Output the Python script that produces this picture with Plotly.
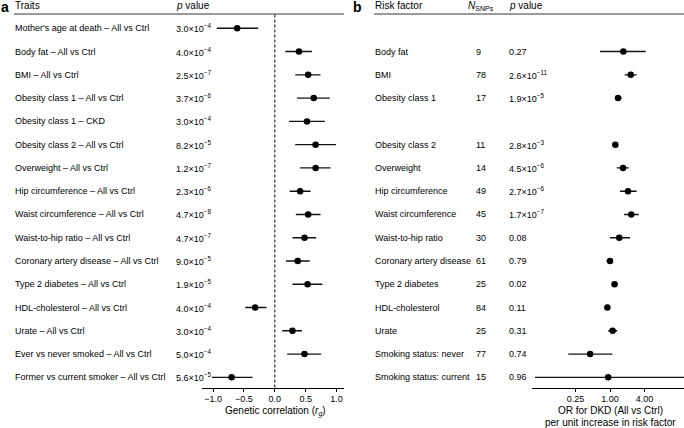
import plotly.graph_objects as go

# ---------------- Data ----------------
traits_a = [
    "Mother's age at death – All vs Ctrl",
    "Body fat – All vs Ctrl",
    "BMI – All vs Ctrl",
    "Obesity class 1 – All vs Ctrl",
    "Obesity class 1 – CKD",
    "Obesity class 2 – All vs Ctrl",
    "Overweight – All vs Ctrl",
    "Hip circumference – All vs Ctrl",
    "Waist circumference – All vs Ctrl",
    "Waist-to-hip ratio – All vs Ctrl",
    "Coronary artery disease – All vs Ctrl",
    "Type 2 diabetes – All vs Ctrl",
    "HDL-cholesterol – All vs Ctrl",
    "Urate – All vs Ctrl",
    "Ever vs never smoked – All vs Ctrl",
    "Former vs current smoker – All vs Ctrl",
]
p_a = [
    "3.0×10<sup>−4</sup>", "4.0×10<sup>−4</sup>", "2.5×10<sup>−7</sup>", "3.7×10<sup>−6</sup>",
    "3.0×10<sup>−4</sup>", "8.2×10<sup>−5</sup>", "1.2×10<sup>−7</sup>", "2.3×10<sup>−6</sup>",
    "4.7×10<sup>−8</sup>", "4.7×10<sup>−7</sup>", "9.0×10<sup>−5</sup>", "1.9×10<sup>−5</sup>",
    "4.0×10<sup>−4</sup>", "3.0×10<sup>−4</sup>", "5.0×10<sup>−4</sup>", "5.6×10<sup>−5</sup>",
]
rg = [-0.61, 0.39, 0.54, 0.63, 0.52, 0.66, 0.66, 0.41, 0.54, 0.48, 0.37, 0.53, -0.32, 0.285, 0.48, -0.70]
rg_lo = [-0.94, 0.17, 0.33, 0.36, 0.23, 0.33, 0.41, 0.24, 0.34, 0.285, 0.18, 0.285, -0.48, 0.12, 0.20, -1.02]
rg_hi = [-0.27, 0.60, 0.74, 0.89, 0.81, 0.99, 0.90, 0.58, 0.74, 0.67, 0.565, 0.77, -0.135, 0.44, 0.75, -0.36]
rows_a = list(range(1, 17))

risk_b = [
    "Body fat", "BMI", "Obesity class 1", "Obesity class 2", "Overweight",
    "Hip circumference", "Waist circumference", "Waist-to-hip ratio",
    "Coronary artery disease", "Type 2 diabetes", "HDL-cholesterol", "Urate",
    "Smoking status: never", "Smoking status: current",
]
n_snps = [9, 78, 17, 11, 14, 49, 45, 30, 61, 25, 84, 25, 77, 15]
p_b = [
    "0.27", "2.6×10<sup>−11</sup>", "1.9×10<sup>−5</sup>", "2.8×10<sup>−3</sup>",
    "4.5×10<sup>−6</sup>", "2.7×10<sup>−6</sup>", "1.7×10<sup>−7</sup>", "0.08",
    "0.79", "0.02", "0.11", "0.31", "0.74", "0.96",
]
or_b = [1.71, 2.30, 1.38, 1.24, 1.69, 2.06, 2.35, 1.45, 1.00, 1.20, 0.90, 1.11, 0.45, 0.93]
or_lo = [0.67, 1.80, 1.22, 1.11, 1.31, 1.49, 1.76, 1.00, 0.87, 1.07, 0.81, 0.93, 0.187, 0.049]
or_hi = [4.20, 2.92, 1.60, 1.38, 2.12, 2.92, 3.17, 2.23, 1.10, 1.34, 1.00, 1.34, 1.10, 25.0]
rows_b = [2, 3, 4, 6, 7, 8, 9, 10, 11, 12, 13, 14, 15, 16]

xticks_a = [-1.0, -0.5, 0.0, 0.5, 1.0]
xticklabels_a = ["−1.0", "−0.5", "0.0", "0.5", "1.0"]
xticks_b = [0.25, 1.0, 4.0]
xticklabels_b = ["0.25", "1.00", "4.00"]

# ---------------- Layout helpers ----------------
W, H = 684, 428
FONT = "Liberation Sans, Arial, Helvetica, sans-serif"
px = lambda x: x / W
py = lambda y: 1 - y / H

y_top_px, y_bot_px = 14, 387.5
row0_px, row_step = 28.3, 23.27
y_range = [16 + (y_bot_px - (row0_px + 15 * row_step)) / row_step,
           1 - (row0_px - y_top_px) / row_step]

fig = go.Figure()

fig.add_trace(go.Scatter(
    x=rg, y=rows_a, mode="markers", xaxis="x", yaxis="y",
    marker=dict(color="black", size=6.5),
    error_x=dict(type="data", symmetric=False,
                 array=[h - v for h, v in zip(rg_hi, rg)],
                 arrayminus=[v - l for v, l in zip(rg, rg_lo)],
                 color="#111111", thickness=1.4, width=0),
    showlegend=False, hoverinfo="skip"))

fig.add_trace(go.Scatter(
    x=or_b, y=rows_b, mode="markers", xaxis="x2", yaxis="y",
    marker=dict(color="black", size=6.5),
    error_x=dict(type="data", symmetric=False,
                 array=[h - v for h, v in zip(or_hi, or_b)],
                 arrayminus=[v - l for v, l in zip(or_b, or_lo)],
                 color="#111111", thickness=1.4, width=0),
    showlegend=False, hoverinfo="skip"))

axis_common = dict(showline=True, linecolor="black", linewidth=1, ticks="outside",
                   ticklen=3, tickwidth=1, tickcolor="black", showgrid=False,
                   zeroline=False, tickfont=dict(family=FONT, size=9, color="black"),
                   anchor="y", fixedrange=True, automargin=False)

fig.update_layout(
    template="none",
    width=W, height=H, margin=dict(l=0, r=0, t=0, b=0, pad=0, autoexpand=False),
    paper_bgcolor="white", plot_bgcolor="white",
    font=dict(family=FONT, color="black"),
    xaxis=dict(domain=[px(202), px(344)], range=[-1.18, 1.12],
               tickvals=xticks_a, ticktext=xticklabels_a, **axis_common),
    xaxis2=dict(domain=[px(532), 1.0], type="log",
                range=[-1.361, 1.291],
                tickvals=xticks_b, ticktext=xticklabels_b, **axis_common),
    yaxis=dict(domain=[py(y_bot_px), py(y_top_px)], range=y_range,
               visible=False, fixedrange=True, automargin=False),
)

shapes = []
# header lines
shapes.append(dict(type="line", xref="paper", yref="paper", x0=px(14), x1=px(344),
                   y0=py(14), y1=py(14), line=dict(color="#7a7a7a", width=1.5)))
shapes.append(dict(type="line", xref="paper", yref="paper", x0=px(374), x1=1.0,
                   y0=py(14), y1=py(14), line=dict(color="#7a7a7a", width=1.5)))
# reference lines (r_g = 0 and OR = 1)
shapes.append(dict(type="line", xref="x", yref="paper", x0=0, x1=0,
                   y0=py(y_bot_px), y1=py(y_top_px),
                   line=dict(color="black", width=1, dash="3px,2px")))
shapes.append(dict(type="line", xref="x2", yref="paper", x0=0, x1=0,
                   y0=py(y_bot_px), y1=py(y_top_px),
                   line=dict(color="black", width=1, dash="3px,2px")))
fig.update_layout(shapes=shapes)

ann = []
def text(x, y, s, size=9, yref="y", anchor="left"):
    ann.append(dict(x=x, y=y, xref="paper", yref=yref, text=s, showarrow=False,
                    xanchor=anchor, yanchor="middle",
                    font=dict(family=FONT, size=size, color="black"),
                    borderpad=0))

# panel letters
text(px(0), py(7), "<b>a</b>", size=14, yref="paper")
text(px(352), py(7), "<b>b</b>", size=14, yref="paper")
# headers
text(px(14), py(6), "Traits", size=10, yref="paper")
text(px(175), py(6), "<i>p</i> value", size=10, yref="paper")
text(px(374), py(6), "Risk factor", size=10, yref="paper")
text(px(467), py(6), "<i>N</i><sub>SNPs</sub>", size=10, yref="paper")
text(px(508), py(6), "<i>p</i> value", size=10, yref="paper")

for r, t, p in zip(rows_a, traits_a, p_a):
    text(px(14), r, t)
    text(px(175), r, p)
for r, t, n, p in zip(rows_b, risk_b, n_snps, p_b):
    text(px(374), r, t)
    text(px(475), r, str(n))
    text(px(508), r, p)

# axis titles
text(px(275), py(411), "Genetic correlation (<i>r</i><sub><i>g</i></sub>)", size=10,
     yref="paper", anchor="center")
text(px(610), py(410), "OR for DKD (All vs Ctrl)", size=10, yref="paper", anchor="center")
text(px(610), py(422), "per unit increase in risk factor", size=10, yref="paper", anchor="center")

fig.update_layout(annotations=ann)
fig.write_html("out.html", config={"displayModeBar": False, "staticPlot": True},
               post_script="document.body.style.margin='0';document.body.style.padding='0';")
